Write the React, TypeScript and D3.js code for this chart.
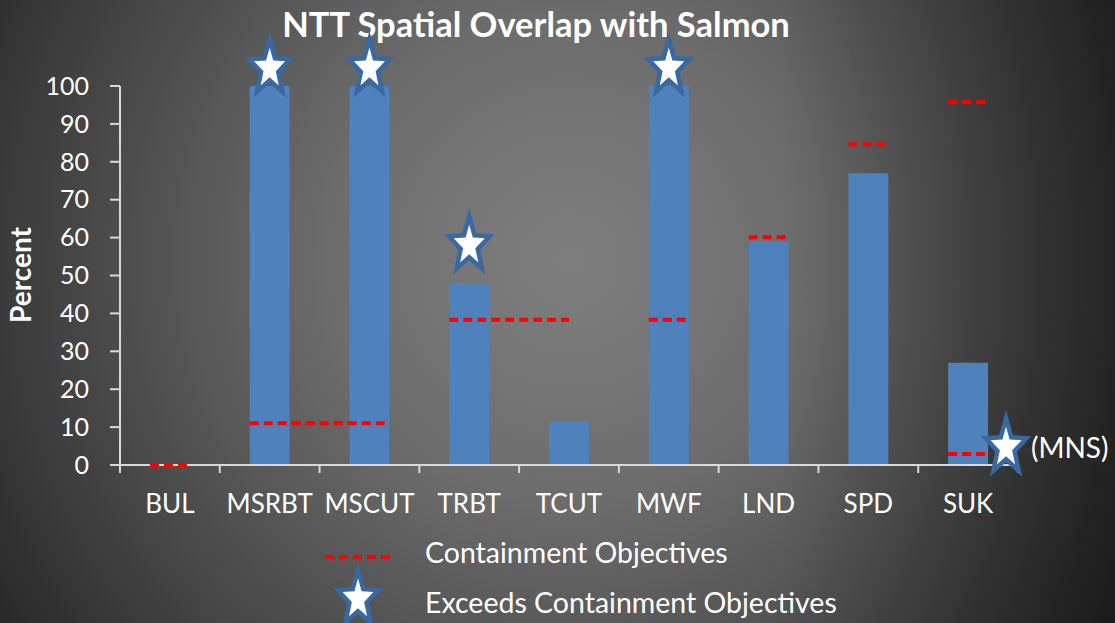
import * as React from 'react'
import * as d3 from 'd3'

const categories = ['BUL', 'MSRBT', 'MSCUT', 'TRBT', 'TCUT', 'MWF', 'LND', 'SPD', 'SUK']
const overlap = [0, 100, 100, 48, 11.5, 100, 59, 77, 27]

// containment objectives: dashed segments from one category's bar to another's
const objectiveFrom = ['BUL', 'MSRBT', 'TRBT', 'MWF', 'LND', 'SPD', 'SUK', 'SUK']
const objectiveTo = ['BUL', 'MSCUT', 'TCUT', 'MWF', 'LND', 'SPD', 'SUK', 'SUK']
const objectiveValue = [0, 11, 38.3, 38.3, 60.1, 84.6, 95.7, 2.9]
const objectiveEndsAtCenter = [false, false, true, false, false, false, false, false]

// stars = exceeds containment objectives
const starCats = ['MSRBT', 'MSCUT', 'TRBT', 'MWF', 'SUK']
const starValues = [104.7, 104.7, 58, 104.7, 4.7]
const starShift = [0, 0, 0, 0, 0.38]
const starNotes = ['', '', '', '', '(MNS)']

const yTicks = [0, 10, 20, 30, 40, 50, 60, 70, 80, 90, 100]

const W = 1115
const H = 623
const FONT = 'Lato, "Open Sans", sans-serif'
const BAR = '#4f81bd'
const AXIS = '#d9d9d9'

function starPath(cx: number, cy: number, R: number) {
  const pts: [number, number][] = []
  for (let i = 0; i < 10; i++) {
    const a = -Math.PI / 2 + (i * Math.PI) / 5
    const r = i % 2 === 0 ? R : R * 0.42
    pts.push([cx + Math.cos(a) * r * 0.74, cy + Math.sin(a) * r])
  }
  return d3.line()(pts) + 'Z'
}

function Star({ cx, cy, R = 29 }: { cx: number; cy: number; R?: number }) {
  return <path d={starPath(cx, cy, R)} fill="#fff" stroke="#3a68a0" strokeWidth={4.5} strokeLinejoin="miter" />
}

export default function App() {
  const x = d3.scaleBand<string>().domain(categories).range([120, 1018]).paddingInner(0.6).paddingOuter(0.3)
  const y = d3.scaleLinear().domain([0, 100]).range([465, 86])
  const step = x.step()
  const bw = x.bandwidth()
  const [x0, x1] = x.range()

  return (
    <svg width={W} height={H} style={{ display: 'block', position: 'absolute', left: 0, top: 0 }}>
      <defs>
        <radialGradient id="bg" gradientUnits="userSpaceOnUse" cx={570} cy={260} r={700}>
          <stop offset="0" stopColor="#7f7f7f" />
          <stop offset="0.35" stopColor="#6c6c6c" />
          <stop offset="0.7" stopColor="#474747" />
          <stop offset="1" stopColor="#252525" />
        </radialGradient>
        <linearGradient id="shade" x1="0" x2="1" y1="0" y2="0">
          <stop offset="0.7" stopColor="#000" stopOpacity={0} />
          <stop offset="1" stopColor="#000" stopOpacity={0.4} />
        </linearGradient>
      </defs>
      <rect width={W} height={H} fill="url(#bg)" />
      <rect width={W} height={H} fill="url(#shade)" />

      <text x={536} y={37} textAnchor="middle" fill="#fff" fontFamily={FONT} fontWeight={700} fontSize={34.5}>
        NTT Spatial Overlap with Salmon
      </text>

      <text
        transform="translate(31,275) rotate(-90)"
        textAnchor="middle"
        fill="#fff"
        fontFamily={FONT}
        fontWeight={700}
        fontSize={28}
      >
        Percent
      </text>

      {/* bars */}
      {categories.map((c, i) => (
        <rect key={c} x={x(c)} y={y(overlap[i])} width={bw} height={y(0) - y(overlap[i])} fill={BAR} />
      ))}

      {/* axes */}
      <line x1={x0} x2={x0} y1={y(100)} y2={y(0)} stroke={AXIS} strokeWidth={2} />
      {yTicks.map((t) => (
        <g key={t}>
          <line x1={x0 - 10} x2={x0} y1={y(t)} y2={y(t)} stroke={AXIS} strokeWidth={2} />
          <text x={89} y={y(t)} dy="0.35em" textAnchor="end" fill="#fff" fontFamily={FONT} fontSize={25}>
            {t}
          </text>
        </g>
      ))}
      <line x1={x0} x2={x1} y1={y(0)} y2={y(0)} stroke={AXIS} strokeWidth={2} />
      {d3.range(categories.length + 1).map((i) => (
        <line key={i} x1={x0 + i * step} x2={x0 + i * step} y1={y(0)} y2={y(0) + 8} stroke={AXIS} strokeWidth={2} />
      ))}
      {categories.map((c) => (
        <text key={c} x={(x(c) ?? 0) + bw / 2} y={513} textAnchor="middle" fill="#fff" fontFamily={FONT} fontSize={26}>
          {c}
        </text>
      ))}

      {/* containment objectives */}
      {objectiveValue.map((v, i) => {
        const xa = x(objectiveFrom[i]) ?? 0
        const xb = (x(objectiveTo[i]) ?? 0) + (objectiveEndsAtCenter[i] ? bw / 2 : bw)
        return (
          <line key={i} x1={xa} x2={xb} y1={y(v)} y2={y(v)} stroke="#ff0000" strokeWidth={4} strokeDasharray="9 5" />
        )
      })}

      {/* stars */}
      {starCats.map((c, i) => {
        const cx = (x(c) ?? 0) + bw / 2 + starShift[i] * step
        const cy = y(starValues[i])
        return (
          <g key={c}>
            <Star cx={cx} cy={cy} />
            {starNotes[i] && (
              <text x={cx + 25} y={cy + 11} fill="#fff" fontFamily={FONT} fontSize={28}>
                {starNotes[i]}
              </text>
            )}
          </g>
        )
      })}

      {/* legend */}
      <line x1={325} x2={390} y1={557} y2={557} stroke="#ff0000" strokeWidth={4} strokeDasharray="9 5" />
      <text x={425} y={563} fill="#fff" fontFamily={FONT} fontSize={28.5}>
        Containment Objectives
      </text>
      <Star cx={358} cy={599} />
      <text x={425} y={613} fill="#fff" fontFamily={FONT} fontSize={28.5}>
        Exceeds Containment Objectives
      </text>
    </svg>
  )
}
